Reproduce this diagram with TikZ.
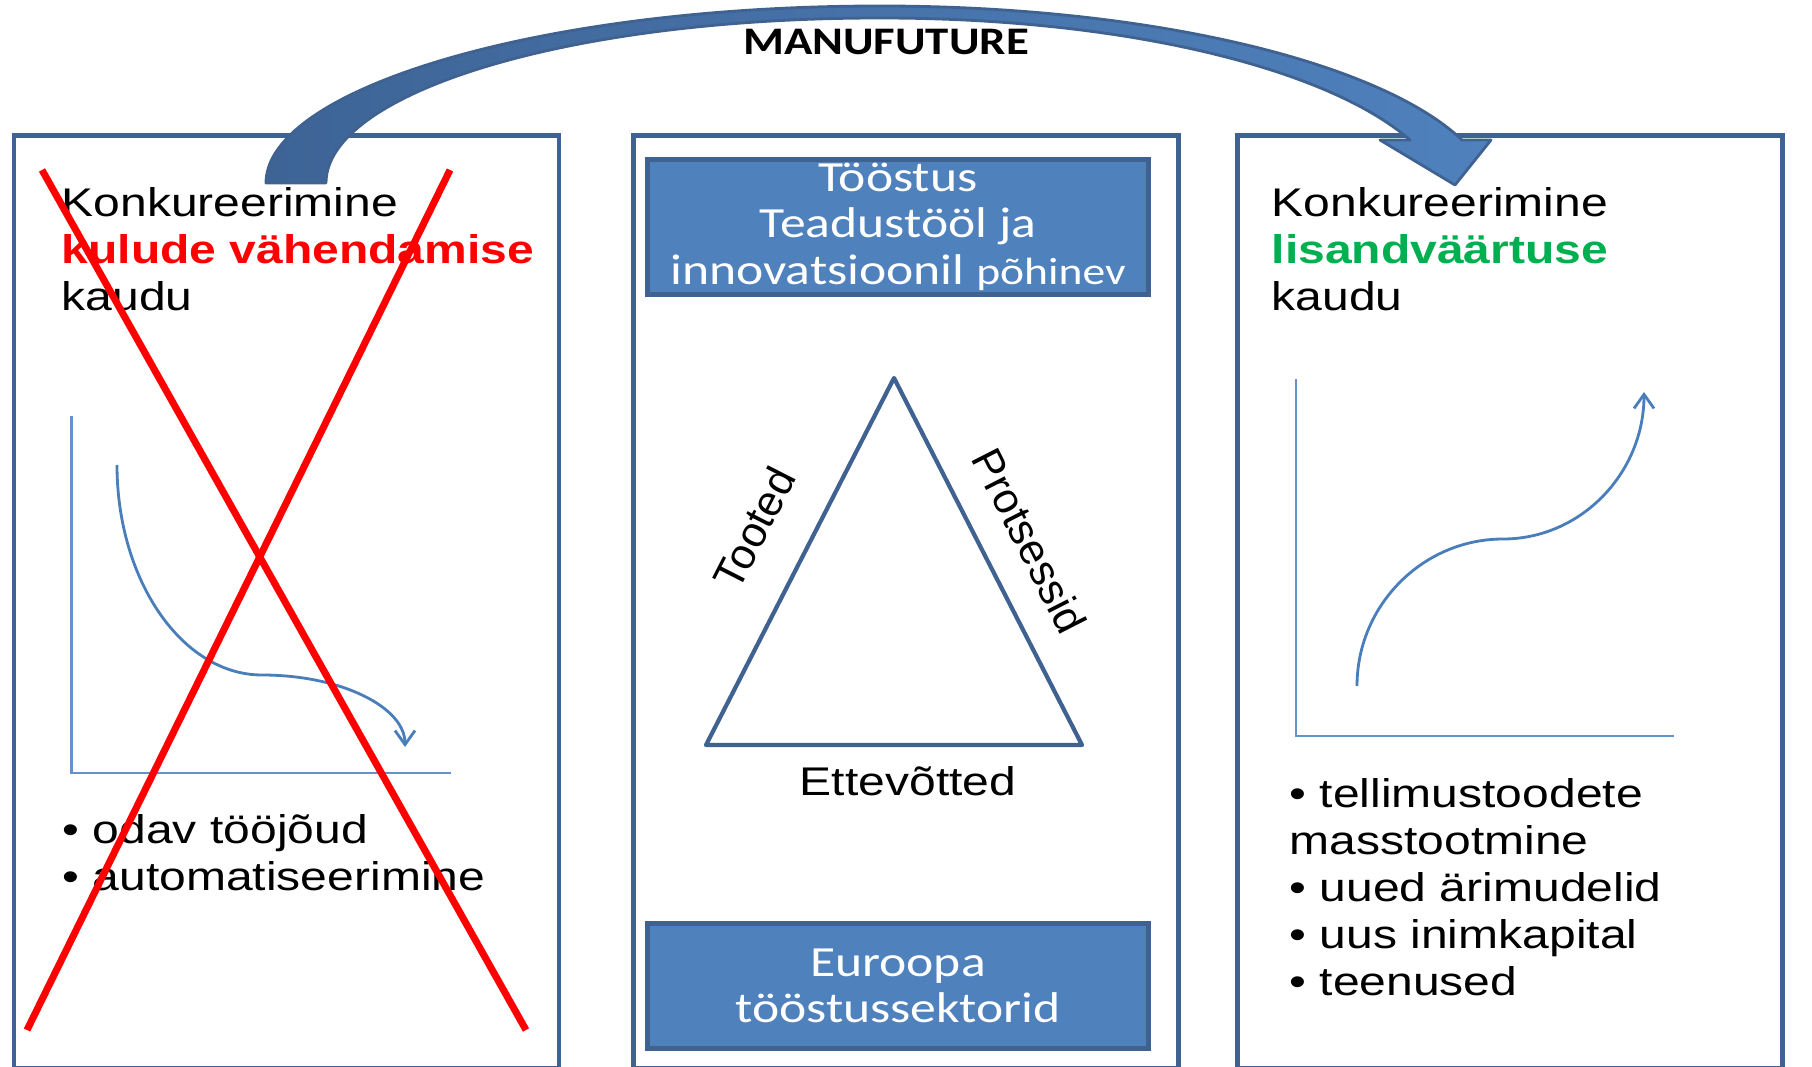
\documentclass[tikz,border=0pt]{standalone}
\usepackage{fontspec}
\setmainfont[FakeStretch=1.2]{Liberation Sans}
\newfontfamily\calibri[FakeStretch=1.2]{Carlito}
\newfontfamily\plainsans{Liberation Sans}
\usetikzlibrary{arrows.meta,positioning}

\definecolor{frameblue}{HTML}{3F6291}
\definecolor{boxblue}{HTML}{4F81BD}
\definecolor{arrowdark}{HTML}{3E6496}
\definecolor{curveblue}{HTML}{4A7EBB}
\definecolor{axisblue}{HTML}{6592CC}
\definecolor{gaingreen}{HTML}{00B050}

\newcommand{\slidefont}{\fontsize{11.38pt}{13.37pt}\selectfont}
\newcommand{\boxfont}{\calibri\fontsize{12.23pt}{13.23pt}\selectfont}

\begin{document}
\begin{tikzpicture}[
		x=0.01cm, y=-0.01cm,
		panel/.style={draw=frameblue, line width=1.3pt, minimum width=5.45cm, minimum height=9.32cm, anchor=north west, inner sep=0pt},
		bluebox/.style={draw=frameblue, line width=1.3pt, fill=boxblue, text=white, minimum width=5.01cm, anchor=north west, align=center, font=\boxfont, inner sep=0pt},
		txt/.style={anchor=north west, align=left, inner sep=0pt, font=\slidefont},
		side/.style={inner sep=0pt, font=\slidefont},
		tilted/.style={inner sep=0pt, font=\plainsans\fontsize{12.2pt}{14pt}\selectfont},
		axis/.style={draw=axisblue, line width=0.75pt},
		trend/.style={draw=curveblue, line width=0.8pt, -{Straight Barb[length=4pt,width=5.7pt]}},
		cross/.style={draw=red, line width=2pt},
	]
		\useasboundingbox (0,0) rectangle (1812,1067);

		% panels
		\node[panel] (leftpanel) at (11.5,133) {};
		\node[panel] (midpanel) at (631,133) {};
		\node[panel] (rightpanel) at (1235,133) {};

		\node[bluebox, minimum height=1.35cm] (industry) at (645,157) {Tööstus\\Teadustööl ja\\innovatsioonil {\fontsize{10.8pt}{13.23pt}\selectfont põhinev}};
		\node[bluebox, minimum height=1.25cm] (sectors) at (645,921) {Euroopa\\tööstussektorid};

		% triangle
		\coordinate (apex) at (894,378);
		\coordinate (baseL) at (706,745);
		\coordinate (baseR) at (1082,745);
		\draw[frameblue, line width=1.2pt, line join=round] (apex) -- (baseR) -- (baseL) -- cycle;
		\node[tilted, rotate=63] (tooted) at (754,528) {Tooted};
		\node[tilted, rotate=-63] (protsessid) at (1030,541) {Protsessid};
		\node[side] (ettevotted) at (908,781) {Ettevõtted};

		% texts
		\node[txt] (lefthead) at (61,186.4) {Konkureerimine\\{\color{red}\bfseries kulude vähendamise}\\kaudu};
		\node[txt] (righthead) at (1271,186.4) {Konkureerimine\\{\color{gaingreen}\bfseries lisandväärtuse}\\kaudu};
		\node[txt] (leftlist) at (62,814) {• odav tööjõud\\• automatiseerimine};
		\node[txt] (rightlist) at (1289,778) {• tellimustoodete\\masstootmine\\• uued ärimudelid\\• uus inimkapital\\• teenused};

		% charts
		\draw[axis] (71.7,416) -- (71.7,773) -- (451,773);
		\draw[trend] (117,465) .. controls (117,580) and (182,675) .. (262,675) .. controls (341,675) and (405,707) .. (405,747);
		\draw[axis] (1296,379) -- (1296,736) -- (1674,736);
		\draw[trend] (1357,686) .. controls (1357,605) and (1423,539) .. (1503,539) .. controls (1581,539) and (1644,473) .. (1644,392);

		\draw[cross] (42,170) -- (526,1030);
		\draw[cross] (450,170) -- (27,1030);

		% big arrow
		\draw[draw=frameblue, line width=0.8pt, left color=arrowdark, right color=boxblue, line join=round]
			(266,183) .. controls (266,90) and (536,6) .. (880,6)
			.. controls (1150,6) and (1380,62) .. (1462,140)
			-- (1491,140) -- (1455,185) -- (1380,140) -- (1410,140)
			.. controls (1330,70) and (1130,18) .. (880,18)
			.. controls (560,18) and (326,95) .. (326,183) -- cycle;
		\node[font=\calibri\bfseries\fontsize{11.1pt}{13pt}\selectfont] (manufuture) at (886,42) {MANUFUTURE};
	\end{tikzpicture}
\end{document}
